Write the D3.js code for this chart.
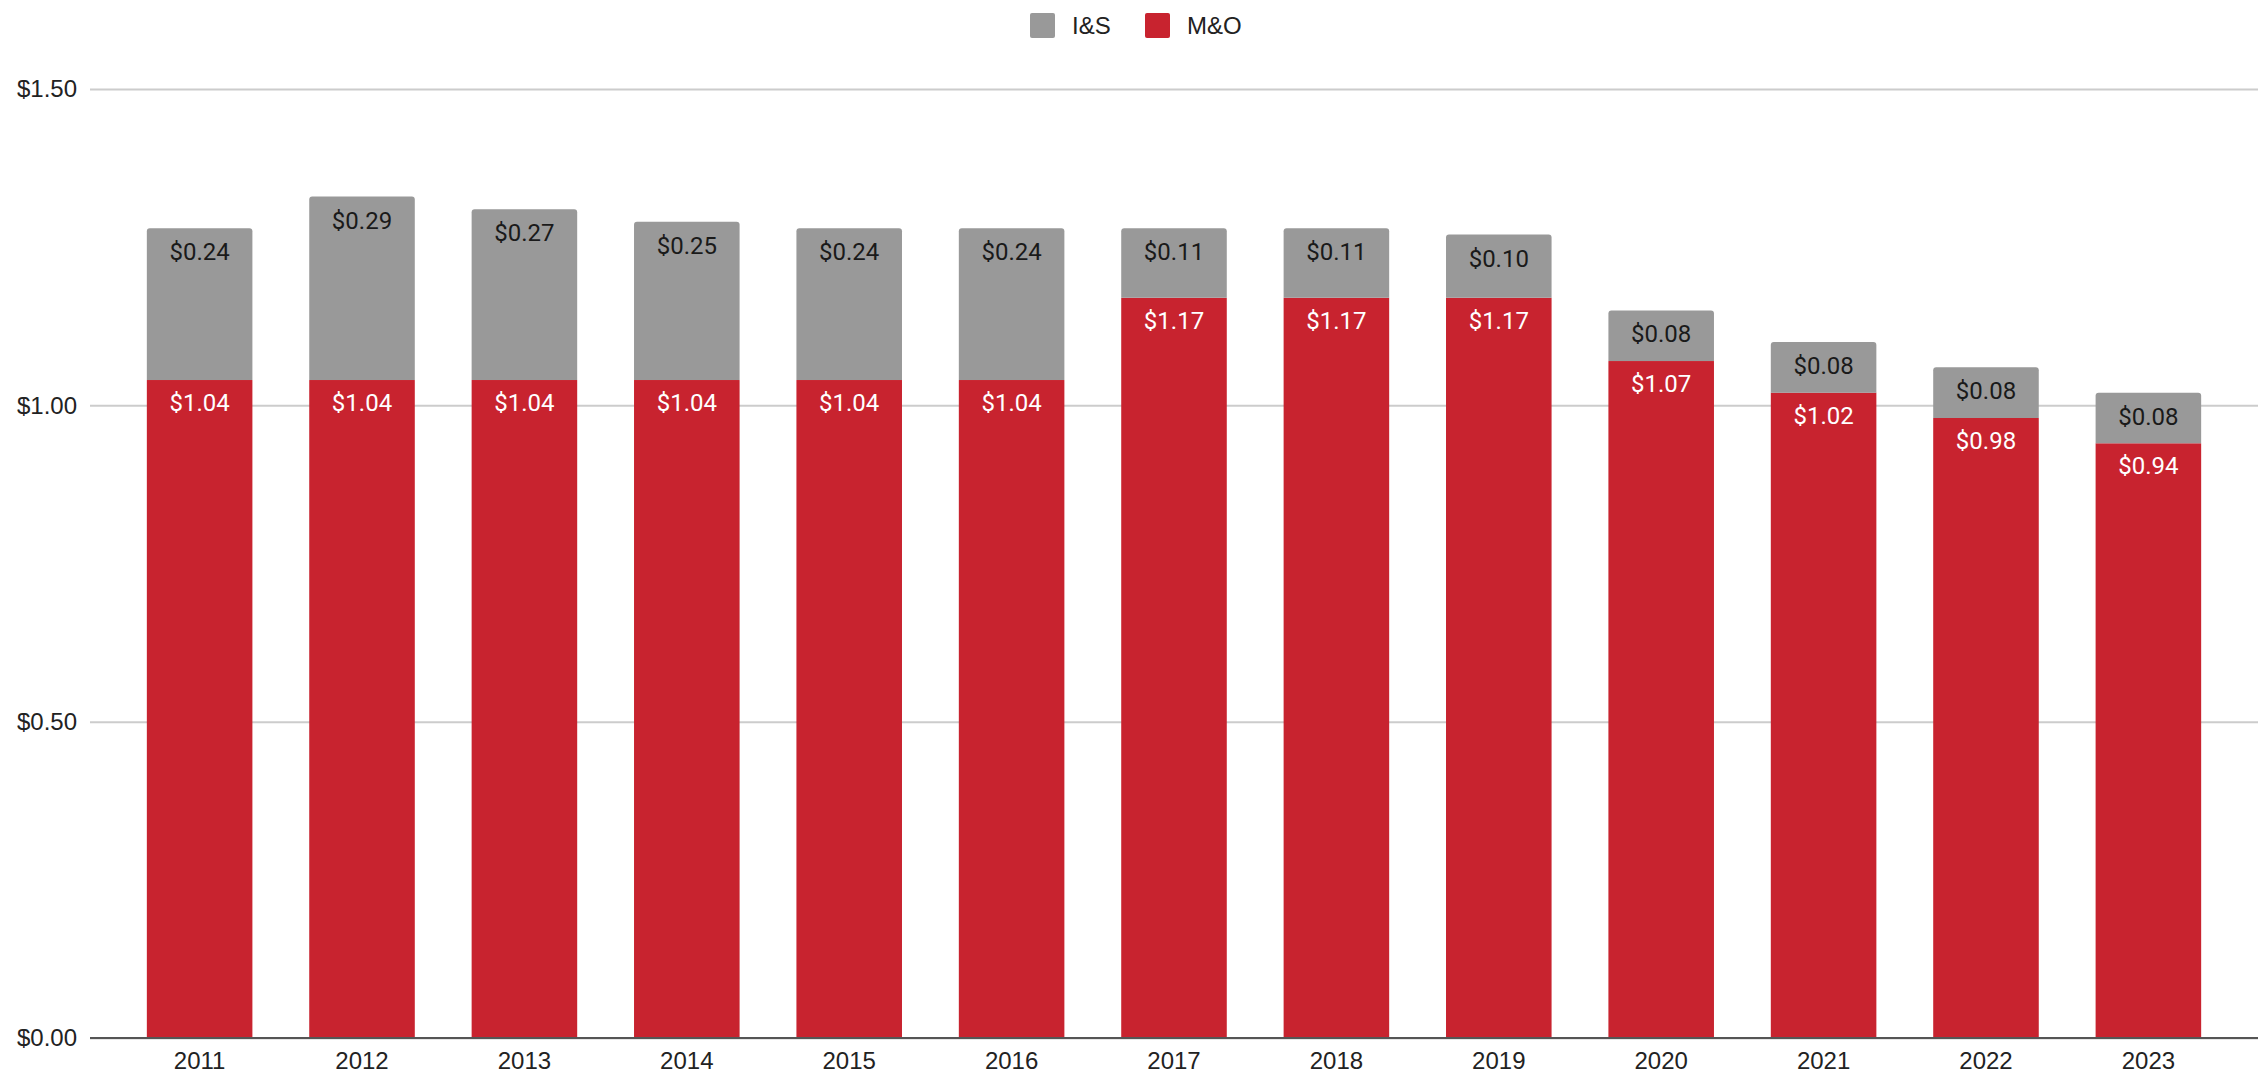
<!DOCTYPE html>
<html>
<head>
<meta charset="utf-8">
<script src="https://cdn.jsdelivr.net/npm/d3@7"></script>
<style>
  body { margin: 0; background: #fff; }
  text { font-family: Roboto, "Noto Sans", sans-serif; }
</style>
</head>
<body>
<div id="chart"></div>
<script>
// data
var years = ["2011", "2012", "2013", "2014", "2015", "2016", "2017", "2018", "2019", "2020", "2021", "2022", "2023"];
var mo = [1.04, 1.04, 1.04, 1.04, 1.04, 1.04, 1.17, 1.17, 1.17, 1.07, 1.02, 0.98, 0.94];
var is = [0.24, 0.29, 0.27, 0.25, 0.24, 0.24, 0.11, 0.11, 0.10, 0.08, 0.08, 0.08, 0.08];
var yTicks = [0, 0.5, 1, 1.5];
var seriesNames = ["I&S", "M&O"];
var seriesColors = ["#999999", "#c8232f"];

var W = 2266, H = 1081;
var margin = {top: 89, right: 8, bottom: 43, left: 90};
var axisFont = "'Liberation Sans', Arial, sans-serif";

var svg = d3.select("#chart")
  .append("svg")
    .attr("width", W)
    .attr("height", H);

var x = d3.scaleBand()
  .domain(years)
  .range([margin.left, W - margin.right])
  .paddingInner(0.35)
  .paddingOuter(0.35);

var y = d3.scaleLinear()
  .domain([0, 1.5])
  .range([H - margin.bottom, margin.top]);

var fmt = function(v) { return "$" + d3.format(".2f")(v); };

// gridlines + y labels
var yAxis = svg.append("g")
  .attr("transform", "translate(" + margin.left + ",0)")
  .call(d3.axisLeft(y).tickValues(yTicks).tickFormat(fmt)
        .tickSize(-(W - margin.left - margin.right)).tickPadding(13));
yAxis.select(".domain").remove();
yAxis.selectAll(".tick line").attr("stroke", "#cccccc").attr("stroke-width", 2);
yAxis.selectAll(".tick text")
  .attr("font-size", 24)
  .attr("fill", "#222")
  .style("font-family", axisFont);

// bars
var data = years.map(function(d, i) { return {year: d, mo: mo[i], is: is[i]}; });
var bw = x.bandwidth();
var r = 3;

svg.append("g").selectAll("rect")
  .data(data)
  .enter().append("rect")
    .attr("x", function(d) { return x(d.year); })
    .attr("y", function(d) { return y(d.mo); })
    .attr("width", bw)
    .attr("height", function(d) { return y(0) - y(d.mo); })
    .attr("fill", seriesColors[1]);

svg.append("g").selectAll("path")
  .data(data)
  .enter().append("path")
    .attr("fill", seriesColors[0])
    .attr("d", function(d) {
      var x0 = x(d.year), x1 = x0 + bw;
      var yt = y(d.mo + d.is), yb = y(d.mo);
      return "M" + x0 + "," + yb +
        "V" + (yt + r) + "Q" + x0 + "," + yt + " " + (x0 + r) + "," + yt +
        "H" + (x1 - r) + "Q" + x1 + "," + yt + " " + x1 + "," + (yt + r) +
        "V" + yb + "Z";
    });

// baseline
svg.append("line")
  .attr("x1", margin.left).attr("x2", W - margin.right)
  .attr("y1", y(0)).attr("y2", y(0))
  .attr("stroke", "#555").attr("stroke-width", 2);

// value labels
svg.append("g").selectAll("text")
  .data(data)
  .enter().append("text")
    .attr("x", function(d) { return x(d.year) + bw / 2; })
    .attr("y", function(d) { return y(d.mo + d.is) + 32; })
    .attr("text-anchor", "middle")
    .attr("font-size", 24)
    .attr("fill", "#1a1a1a")
    .text(function(d) { return fmt(d.is); });

svg.append("g").selectAll("text")
  .data(data)
  .enter().append("text")
    .attr("x", function(d) { return x(d.year) + bw / 2; })
    .attr("y", function(d) { return y(d.mo) + 31; })
    .attr("text-anchor", "middle")
    .attr("font-size", 24)
    .attr("fill", "#ffffff")
    .text(function(d) { return fmt(d.mo); });

// x labels
var xAxis = svg.append("g")
  .attr("transform", "translate(0," + y(0) + ")")
  .call(d3.axisBottom(x).tickSize(0).tickPadding(14));
xAxis.select(".domain").remove();
xAxis.selectAll(".tick text")
  .attr("font-size", 24)
  .attr("fill", "#222")
  .style("font-family", axisFont);

// legend
var legendX = [1030, 1145];
var legend = svg.append("g").selectAll("g")
  .data(seriesNames)
  .enter().append("g")
    .attr("transform", function(d, i) { return "translate(" + legendX[i] + ",13)"; });
legend.append("rect")
  .attr("width", 25).attr("height", 25).attr("rx", 2)
  .attr("fill", function(d, i) { return seriesColors[i]; });
legend.append("text")
  .attr("x", 42).attr("y", 21)
  .attr("font-size", 24)
  .attr("fill", "#222")
  .style("font-family", axisFont)
  .text(function(d) { return d; });
</script>
</body>
</html>
